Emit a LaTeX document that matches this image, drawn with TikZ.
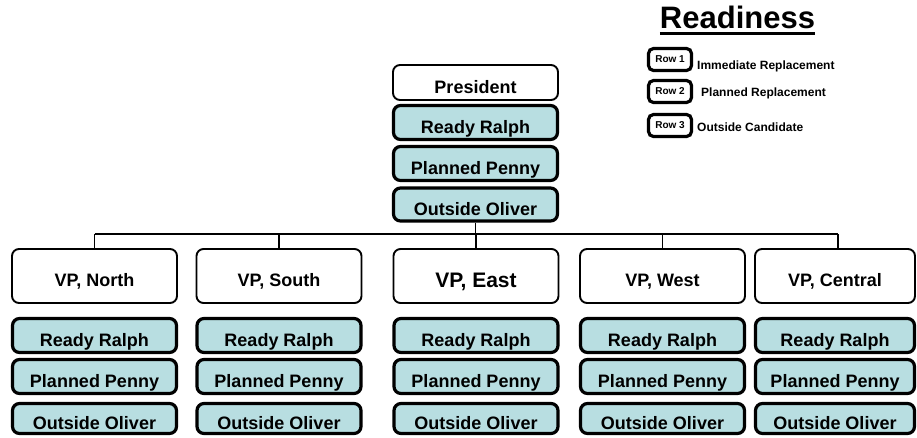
\documentclass[tikz,border=0pt]{standalone}
\usepackage{fontspec}
\setmainfont{Liberation Sans}
\definecolor{readyfill}{RGB}{184,222,225}
\begin{document}
\begin{tikzpicture}[x=1pt,y=-1pt,
  base/.style={rounded corners=7pt, inner sep=0pt, align=center,
    text height=21pt, text depth=0pt},
  rolebox/.style={base, draw, fill=white, line width=1.9pt,
    minimum width=165pt, minimum height=35pt,
    font=\fontsize{18}{20}\selectfont\bfseries},
  vpbox/.style={rolebox, minimum height=54pt},
  candbox/.style={base, draw, fill=readyfill, line width=3.2pt,
    minimum width=164pt, minimum height=34pt,
    font=\fontsize{18}{20}\selectfont\bfseries},
  keybox/.style={draw, fill=white, line width=3.2pt, rounded corners=5pt,
    minimum width=43pt, minimum height=22pt, inner sep=0pt,
    font=\fontsize{10}{12}\selectfont\bfseries},
  keytext/.style={anchor=base west, inner sep=0pt,
    font=\fontsize{12}{14}\selectfont\bfseries},
  link/.style={line width=1.9pt}]
\useasboundingbox (0,0) rectangle (917,437);

% --- readiness key ---
\node[anchor=base, inner sep=0pt, font=\fontsize{31}{34}\selectfont\bfseries]
  (title) at (737.5,28.5) {Readiness};
\draw[line width=3pt] ([yshift=-4.5pt]title.base west) -- ([yshift=-4.5pt]title.base east);
\node[keybox] (k1) at (670,59.5) {Row 1};
\node[keybox] (k2) at (670,91.5) {Row 2};
\node[keybox] (k3) at (670,125.5) {Row 3};
\node[keytext] (t1) at (697,69) {Immediate Replacement};
\node[keytext] (t2) at (701,96) {Planned Replacement};
\node[keytext] (t3) at (697,131) {Outside Candidate};

% --- president and successors ---
\node[rolebox] (pres) at (475.5,82.5) {President};
\node[candbox] (pr) at (475.5,122.5) {Ready Ralph};
\node[candbox] (pp) at (475.5,163.5) {Planned Penny};
\node[candbox, minimum height=33pt] (po) at (475.5,204.5) {Outside Oliver};

% --- vice presidents ---
\node[vpbox] (vn) at (94.5,276) {VP, North};
\node[vpbox] (vs) at (279,276) {VP, South};
\node[vpbox, font=\fontsize{21}{24}\selectfont\bfseries, text height=23pt] (ve) at (476,276) {VP, East};
\node[vpbox] (vw) at (662.5,276) {VP, West};
\node[vpbox, minimum width=160pt] (vc) at (835,276) {VP, Central};

% --- successors for each vice president ---
\foreach \v/\x/\w in {n/94.5/164, s/279/164, e/476/164, w/662.5/164, c/835/159}{
  \node[candbox, minimum width=\w pt] (\v r) at (\x,335.5) {Ready Ralph};
  \node[candbox, minimum width=\w pt] (\v p) at (\x,376.5) {Planned Penny};
  \node[candbox, minimum width=\w pt, minimum height=30pt] (\v o) at (\x,418.5) {Outside Oliver};
}

% --- reporting lines ---
\coordinate (bus) at (476,234);
\draw[link] (po.south) -- (po.south |- bus);
\draw[link] (vn.north |- bus) -- ([xshift=3pt]vc.north |- bus);
\foreach \v in {vn,vs,ve,vw}{
  \draw[link] (\v.north |- bus) -- (\v.north);
}
\draw[link] ([xshift=3pt]vc.north |- bus) -- ([xshift=3pt]vc.north);
\end{tikzpicture}
\end{document}
